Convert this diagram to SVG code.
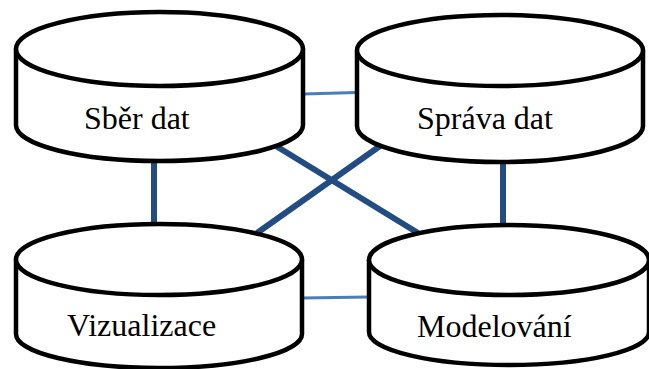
<svg xmlns="http://www.w3.org/2000/svg" width="649" height="369" viewBox="0 0 649 369">
<style>
.cyl{fill:#fff;stroke:#000;stroke-width:4.5;stroke-linejoin:round}
.lbl{font-family:"Liberation Serif","Times New Roman",serif;font-size:32px;fill:#000}
.thick{stroke:#234d82;stroke-width:6;fill:none}
.thin{stroke:#4a7ebb;stroke-width:3;fill:none}
</style>
<rect width="649" height="369" fill="#fff"/>
<g id="connectors">
<line class="thin" x1="303" y1="94" x2="357" y2="92.5"/>
<line class="thin" x1="302" y1="298" x2="369" y2="297"/>
<line class="thick" x1="154" y1="160" x2="154" y2="226"/>
<line class="thick" x1="503" y1="160" x2="503" y2="227"/>
<line class="thick" x1="276" y1="146" x2="418" y2="233"/>
<line class="thick" x1="380" y1="146" x2="257" y2="233"/>
</g>
<g id="sber-dat">
<path class="cyl" d="M16,49 L16,125 A143.5,36 0 0 0 303,125 L303,49 Z"/>
<ellipse class="cyl" cx="159.5" cy="49" rx="143.5" ry="37"/>
<text class="lbl" x="84" y="129">Sběr dat</text>
</g>
<g id="sprava-dat">
<path class="cyl" d="M357,50.5 L357,126 A143,36 0 0 0 643,126 L643,50.5 Z"/>
<ellipse class="cyl" cx="500" cy="50.5" rx="143" ry="35.5"/>
<text class="lbl" x="417" y="129">Správa dat</text>
</g>
<g id="vizualizace">
<path class="cyl" d="M16,259.5 L16,334 A143,34 0 0 0 302,334 L302,259.5 Z"/>
<ellipse class="cyl" cx="159" cy="259.5" rx="143" ry="35.5"/>
<text class="lbl" x="67" y="336">Vizualizace</text>
</g>
<g id="modelovani">
<path class="cyl" d="M369,260 L369,332 A140,33 0 0 0 649,332 L649,260 Z"/>
<ellipse class="cyl" cx="509" cy="260" rx="140" ry="35"/>
<text class="lbl" x="417" y="337">Modelování</text>
</g>
</svg>
